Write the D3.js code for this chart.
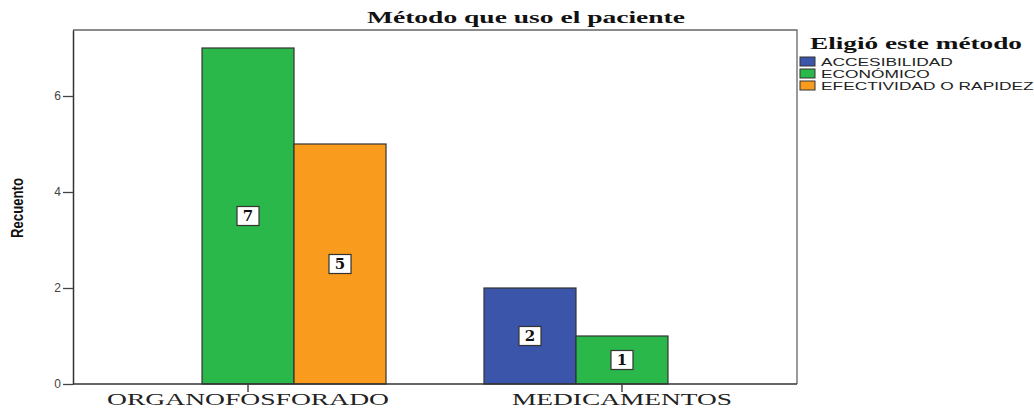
<!DOCTYPE html>
<html>
<head>
<meta charset="utf-8">
<script src="https://cdn.jsdelivr.net/npm/d3@7"></script>
<style>
  body { margin: 0; background: #fff; }
  svg { display: block; }
</style>
</head>
<body>
<svg width="1034" height="409"></svg>
<script>
// datos del grafico
var categories = ["ORGANOFOSFORADO", "MEDICAMENTOS"];
var series = ["ACCESIBILIDAD", "ECONÓMICO", "EFECTIVIDAD O RAPIDEZ"];
var accesibilidad = [0, 2];
var economico = [7, 1];
var efectividad = [5, 0];
var yTicks = [0, 2, 4, 6];
var colors = ["#3a55a9", "#2bb84b", "#f99b1c"];

var values = [accesibilidad, economico, efectividad];

var svg = d3.select("svg");
var m = {left: 73, right: 797, top: 30, bottom: 384};

var x = d3.scaleBand().domain(categories).range([m.left, m.right])
  .paddingInner(0.262).paddingOuter(0.099);
var xs = d3.scaleBand().domain(series).range([0, x.bandwidth()]);
var y = d3.scaleLinear().domain([0, 7.375]).range([m.bottom, m.top]);

// marco
svg.append("path")
  .attr("d", "M" + m.left + "," + m.top + "H" + m.right + "V" + m.bottom)
  .attr("fill", "none").attr("stroke", "#666").attr("stroke-width", 1.3);

// barras
var rows = [];
categories.forEach(function(c, i) {
  series.forEach(function(s, j) {
    if (values[j][i] > 0) rows.push({cat: c, ser: s, v: values[j][i], k: j});
  });
});

svg.append("g").selectAll("rect")
  .data(rows).enter().append("rect")
  .attr("x", function(d) { return x(d.cat) + xs(d.ser); })
  .attr("y", function(d) { return y(d.v); })
  .attr("width", xs.bandwidth())
  .attr("height", function(d) { return y(0) - y(d.v); })
  .attr("fill", function(d) { return colors[d.k]; })
  .attr("stroke", "#333").attr("stroke-width", 1.2);

// etiquetas de valor
var lab = svg.append("g").selectAll("g")
  .data(rows).enter().append("g")
  .attr("transform", function(d) {
    return "translate(" + (x(d.cat) + xs(d.ser) + xs.bandwidth() / 2) + "," + y(d.v / 2) + ")";
  });
lab.append("rect")
  .attr("x", -11).attr("y", -9.5).attr("width", 22).attr("height", 19)
  .attr("fill", "#fff").attr("stroke", "#333").attr("stroke-width", 1.2);
lab.append("text")
  .attr("text-anchor", "middle").attr("dy", "0.36em")
  .style("font-family", "'DejaVu Serif', serif").style("font-weight", "bold")
  .style("font-size", "15px").attr("fill", "#111")
  .text(function(d) { return d.v; });

// eje y
var yAxis = svg.append("g").attr("transform", "translate(" + m.left + ",0)")
  .call(d3.axisLeft(y).tickValues(yTicks).tickSize(10).tickPadding(2).tickSizeOuter(0));
yAxis.select(".domain").attr("stroke", "#333").attr("stroke-width", 1.5);
yAxis.selectAll(".tick line").attr("stroke", "#444").attr("stroke-width", 1.3);
yAxis.selectAll(".tick text")
  .style("font-family", "'Liberation Sans', sans-serif").style("font-size", "12px").attr("fill", "#444");

// eje x
var xAxis = svg.append("g").attr("transform", "translate(0," + m.bottom + ")")
  .call(d3.axisBottom(x).tickSize(8).tickPadding(2).tickSizeOuter(0));
xAxis.selectAll(".tick").attr("transform", function(d) {
  return "translate(" + (x(d) + xs.step() * 1.5) + ",0)";
});
xAxis.select(".domain").attr("stroke", "#333").attr("stroke-width", 1.5)
  .attr("d", "M" + m.left + ",0H" + m.right);
xAxis.selectAll(".tick line").attr("stroke", "#444").attr("stroke-width", 1.5);
xAxis.selectAll(".tick text")
  .style("font-family", "'Liberation Serif', serif").style("font-size", "16px")
  .attr("fill", "#222")
  .attr("textLength", function(d) { return d === "ORGANOFOSFORADO" ? 282 : 220; })
  .attr("lengthAdjust", "spacingAndGlyphs");

// titulo
svg.append("text")
  .attr("x", 526).attr("y", 23).attr("text-anchor", "middle")
  .attr("textLength", 318).attr("lengthAdjust", "spacingAndGlyphs")
  .style("font-family", "'Liberation Serif', serif").style("font-weight", "bold")
  .style("font-size", "17px").attr("fill", "#111")
  .text("Método que uso el paciente");

// titulo eje y
svg.append("text")
  .attr("transform", "translate(23,208) rotate(-90)")
  .attr("text-anchor", "middle")
  .attr("textLength", 60).attr("lengthAdjust", "spacingAndGlyphs")
  .style("font-family", "'Liberation Sans', sans-serif").style("font-weight", "bold")
  .style("font-size", "17px").attr("fill", "#111")
  .text("Recuento");

// leyenda
svg.append("text")
  .attr("x", 810).attr("y", 49)
  .attr("textLength", 212).attr("lengthAdjust", "spacingAndGlyphs")
  .style("font-family", "'Liberation Serif', serif").style("font-weight", "bold")
  .style("font-size", "17px").attr("fill", "#111")
  .text("Eligió este método");

var leg = svg.append("g").selectAll("g")
  .data(series).enter().append("g")
  .attr("transform", function(d, i) { return "translate(800," + (57 + i * 12) + ")"; });
leg.append("rect")
  .attr("width", 15).attr("height", 9)
  .attr("fill", function(d, i) { return colors[i]; })
  .attr("stroke", "#333").attr("stroke-width", 1);
var legText = leg.append("text")
  .attr("y", 9)
  .style("font-family", "'Liberation Sans', sans-serif").style("font-size", "11px")
  .attr("fill", "#222")
  .text(function(d) { return d; });
// estirar horizontalmente como en la imagen original
var stretch = 132 / legText.node().getComputedTextLength();
legText.attr("transform", "translate(21,0) scale(" + stretch + ",1)");
</script>
</body>
</html>
